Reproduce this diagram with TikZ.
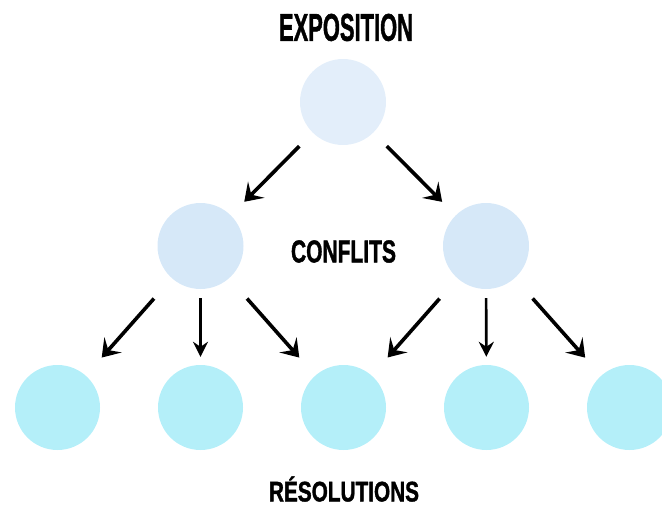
\documentclass[tikz,border=0pt]{standalone}
\usepackage{fontspec}
\setmainfont{Liberation Sans}
\newfontfamily\heavyfont[FakeBold=1.6]{Liberation Sans}
\usetikzlibrary{arrows.meta}
\definecolor{topc}{HTML}{E3EEFA}
\definecolor{midc}{HTML}{D6E8F8}
\definecolor{botc}{HTML}{B4EFF9}
\newcommand{\lbltext}[3]{\resizebox{#1}{#2}{\heavyfont\bfseries #3}}
\tikzset{
  dot/.style={circle, inner sep=0pt, minimum size=86pt, draw=none},
  topdot/.style={dot, fill=topc},
  middot/.style={dot, fill=midc},
  botdot/.style={dot, fill=botc, minimum size=85pt},
  title/.style={inner sep=0pt, text=black},
  diagarrow/.style={line width=3.6pt, -{Stealth[length=17pt,width=23pt,inset=7pt]}},
  vertarrow/.style={line width=2.6pt, -{Stealth[length=15pt,width=15pt,inset=5pt]}}
}
\begin{document}
\begin{tikzpicture}[x=1pt,y=-1pt]
\path[use as bounding box] (0,0) rectangle (662,506);
\node[topdot] (top) at (343,102) {};
\node[middot] (ml) at (200.5,246) {};
\node[middot] (mr) at (486,246) {};
\node[botdot] (b1) at (57.5,407.5) {};
\node[botdot] (b2) at (200.5,407.5) {};
\node[botdot] (b3) at (343.5,407.5) {};
\node[botdot] (b4) at (486.5,407.5) {};
\node[botdot] (b5) at (629.5,407.5) {};
\node[title] (t1) at (346,27.5) {\lbltext{134pt}{27pt}{EXPOSITION}};
\node[title] (t2) at (343.5,251.5) {\lbltext{105pt}{22pt}{CONFLITS}};
\node[title] (t3) at (344,489) {\lbltext{150pt}{25pt}{RÉSOLUTIONS}};
\draw[diagarrow, shorten <=19pt, shorten >=19pt] (top) -- (ml);
\draw[diagarrow, shorten <=19pt, shorten >=19pt] (top) -- (mr);
\draw[diagarrow, shorten <=27pt, shorten >=24pt] (ml) -- (b1);
\draw[vertarrow, shorten <=9pt, shorten >=8pt] (ml) -- (b2);
\draw[diagarrow, shorten <=27pt, shorten >=24pt] (ml) -- (b3);
\draw[diagarrow, shorten <=27pt, shorten >=24pt] (mr) -- (b3);
\draw[vertarrow, shorten <=9pt, shorten >=8pt] (mr) -- (b4);
\draw[diagarrow, shorten <=27pt, shorten >=24pt] (mr) -- (b5);
\end{tikzpicture}
\end{document}
